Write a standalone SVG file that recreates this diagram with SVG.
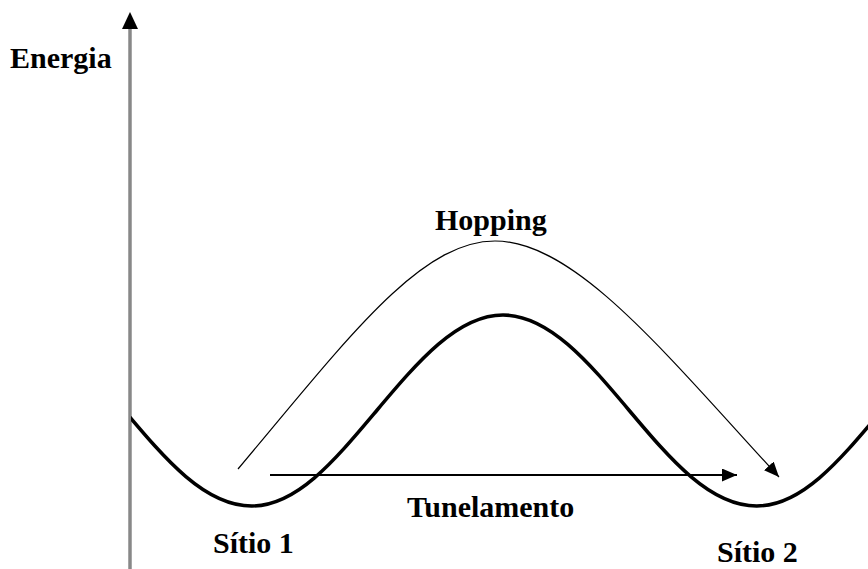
<svg xmlns="http://www.w3.org/2000/svg" width="868" height="569" viewBox="0 0 868 569">
<style>
.lbl{font-family:"Liberation Serif","Times New Roman",serif;font-weight:bold;font-size:30px;fill:#000}
.curve{fill:none;stroke:#000;stroke-width:3.5}
.thin{fill:none;stroke:#000;stroke-width:1.2}
.tun{fill:none;stroke:#000;stroke-width:1.8}
</style>
<defs>
<marker id="ah" viewBox="0 0 15 13" refX="15" refY="6.5" markerWidth="15" markerHeight="13" markerUnits="userSpaceOnUse" orient="auto">
<path d="M0,0 L15,6.5 L0,13 Z" fill="#000"/>
</marker>
<clipPath id="clipR"><rect x="131" y="0" width="737" height="569"/></clipPath>
</defs>
<rect width="868" height="569" fill="#fff"/>
<g id="axis">
<line x1="130" y1="26" x2="130" y2="569" stroke="#888" stroke-width="3.5"/>
<path d="M130,12 L122,29 L138,29 Z" fill="#000"/>
<text class="lbl" x="10" y="68">Energia</text>
</g>
<g id="potential">
<path class="curve" clip-path="url(#clipR)" d="M124.25,410.5 C165.45,459.4 204.85,506 251.75,506 C297.4,506 335.55,459.4 376.75,410.5 C417.95,361.6 457.35,315 503,315 C548.65,315 588.05,361.6 629.25,410.5 C670.45,459.4 709.85,506 756.75,506 C802.4,506 840.55,459.4 881.75,410.5"/>
</g>
<g id="connectors">
<path id="hopping-arrow" class="thin" marker-end="url(#ah)" d="M238,469 C348,338 420,241 495,241 C575,241 664,352 779,477"/>
<line id="tunnel-arrow" class="tun" x1="270" y1="475" x2="737" y2="475" marker-end="url(#ah)"/>
</g>
<g id="labels">
<text class="lbl" x="435" y="230">Hopping</text>
<text class="lbl" x="407" y="517">Tunelamento</text>
<text class="lbl" x="213" y="553">Sítio 1</text>
<text class="lbl" x="717" y="562">Sítio 2</text>
</g>
</svg>
